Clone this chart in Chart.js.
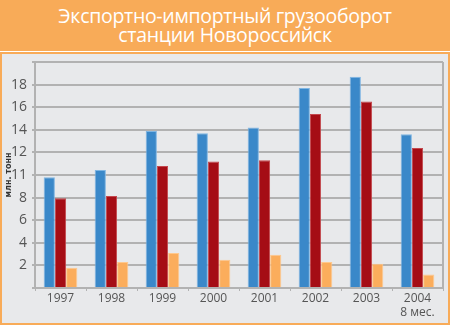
<!DOCTYPE html>
<html>
<head>
<meta charset="utf-8">
<script src="https://cdn.jsdelivr.net/npm/chart.js@4"></script>
<style>
    html, body { margin: 0; padding: 0; background: #ffffff; }
    body { width: 450px; height: 326px; position: relative; overflow: hidden; }
    #banner {
        position: absolute; left: 0; top: 0; width: 450px; height: 51px;
        background: #F8AB58; color: #ffffff; text-align: center;
        font-family: "Open Sans", sans-serif; font-size: 19.5px; line-height: 19px;
        padding-top: 6px; box-sizing: border-box; letter-spacing: -0.3px;
    }
    #panel {
        position: absolute; left: 0; top: 52px; width: 450px; height: 273px;
        border: 2px solid #F8AB58; box-sizing: border-box; background: #E8E9EB;
    }
    #wrap { position: absolute; left: 0; top: 0; width: 450px; height: 326px; }
</style>
</head>
<body>
<div id="banner">Экспортно-импортный грузооборот<br>станции Новороссийск</div>
<div id="panel"></div>
<div id="wrap"><canvas id="chart"></canvas></div>
<script>
// Данные графика (млн. тонн)
const years = [['1997'], ['1998'], ['1999'], ['2000'], ['2001'], ['2002'], ['2003'], ['2004', '8 мес.']];
const blueValues = [9.8, 10.45, 13.9, 13.7, 14.2, 17.7, 18.7, 13.6];
const redValues = [7.95, 8.15, 10.8, 11.2, 11.3, 15.4, 16.5, 12.4];
const orangeValues = [1.8, 2.3, 3.1, 2.5, 2.95, 2.3, 2.15, 1.2];
// подписи оси Y как на рисунке (вместо 10 стоит 11)
const yTickLabels = { 2: '2', 4: '4', 6: '6', 8: '8', 10: '11', 12: '12', 14: '14', 16: '16', 18: '18' };

document.addEventListener('DOMContentLoaded', function () {

    const gridColor = '#B2B2B2';

    // Рамка справа у области графика
    const frameRight = {
        id: 'frameRight',
        afterDatasetsDraw(chart) {
            const { ctx, chartArea } = chart;
            ctx.save();
            ctx.strokeStyle = gridColor;
            ctx.lineWidth = 2;
            ctx.beginPath();
            ctx.moveTo(chartArea.right, chartArea.top);
            ctx.lineTo(chartArea.right, chartArea.bottom);
            ctx.stroke();
            ctx.restore();
        }
    };

    function dataset(data, color, border) {
        return {
            data: data,
            backgroundColor: color,
            borderColor: border,
            borderWidth: 1,
            categoryPercentage: 0.66,
            barPercentage: 1.0
        };
    }

    const ctx = document.getElementById('chart').getContext('2d');
    new Chart(ctx, {
        type: 'bar',
        data: {
            labels: years,
            datasets: [
                dataset(blueValues, '#3A88C9', '#7FB6E3'),
                dataset(redValues, '#A50D15', '#C4474D'),
                dataset(orangeValues, '#FBAD5C', '#FFC88C')
            ]
        },
        options: {
            responsive: true,
            maintainAspectRatio: false,
            animation: false,
            layout: { padding: { left: 0, top: 62, right: 7, bottom: 0 } },
            plugins: {
                legend: { display: false },
                tooltip: { enabled: false }
            },
            scales: {
                x: {
                    afterFit: function (scale) { scale.height = 38; },
                    grid: {
                        offset: true,
                        drawOnChartArea: false,
                        drawTicks: true,
                        tickLength: 3,
                        color: gridColor,
                        lineWidth: 1
                    },
                    border: { display: true, color: gridColor, width: 2 },
                    ticks: {
                        padding: 1,
                        maxRotation: 0,
                        color: '#555555',
                        font: { family: '"Open Sans", sans-serif', size: 12, lineHeight: 1.15 }
                    }
                },
                y: {
                    min: 0,
                    max: 20,
                    afterFit: function (scale) { scale.width = 35; },
                    grid: {
                        color: gridColor,
                        lineWidth: 2,
                        tickLength: 3
                    },
                    border: { display: true, color: gridColor, width: 2 },
                    ticks: {
                        stepSize: 2,
                        padding: 5,
                        color: '#555555',
                        font: { family: '"Open Sans", sans-serif', size: 14 },
                        callback: function (value) { return yTickLabels[value] || ''; }
                    },
                    title: {
                        display: true,
                        text: 'млн. тонн',
                        color: '#333333',
                        padding: { top: 4, bottom: 0 },
                        font: { family: '"DejaVu Sans", sans-serif', size: 8, weight: 'bold' }
                    }
                }
            }
        },
        plugins: [frameRight]
    });
});
</script>
</body>
</html>
